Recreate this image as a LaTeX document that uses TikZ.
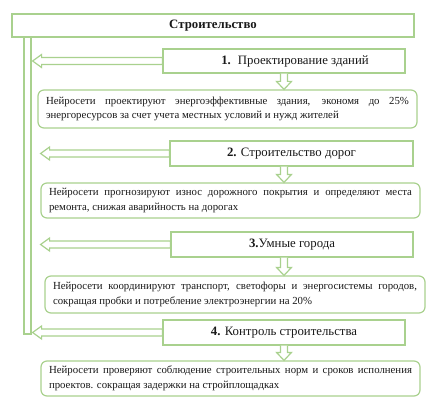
\documentclass[tikz,border=0pt]{standalone}
\usepackage{fontspec}
\setmainfont{Liberation Serif}
\usetikzlibrary{calc}
\definecolor{leafgreen}{RGB}{169,209,142}
\definecolor{inkgray}{RGB}{25,25,25}

\begin{document}
\begin{tikzpicture}[x=1pt,y=-1pt,
    headbox/.style={draw=leafgreen,fill=white,line width=1.2pt,inner sep=0pt,
      text=inkgray,align=center,font=\fontsize{12.8}{15}\selectfont},
    notebox/.style={draw=leafgreen,fill=white,line width=1.2pt,rounded corners=6pt,
      inner xsep=8pt,inner ysep=0pt,text=inkgray,align=justify,
      font=\fontsize{10.8}{14.5}\selectfont},
    blockarr/.style={draw=leafgreen,fill=white,line width=1.2pt,line join=miter}]
    \useasboundingbox (0,0) rectangle (430,406);

    % Title and the long bar on the left
    \node[headbox,minimum width=402pt,minimum height=23pt] (h0) at (213,25.5) {\textbf{Строительство}};
    \node[draw=leafgreen,fill=white,line width=1.2pt,inner sep=0pt,
      minimum width=7pt,minimum height=297pt] (bar) at (27.5,185.5) {};

    % Stages
    \node[headbox,minimum width=242pt,minimum height=24pt] (h1) at (284,61)
      {\hspace*{22pt}\textbf{1.}\hspace{7pt}Проектирование зданий};
    \node[headbox,minimum width=243pt,minimum height=25pt] (h2) at (291.5,153.5)
      {\textbf{2.} Строительство дорог};
    \node[headbox,minimum width=242pt,minimum height=25pt] (h3) at (292,244.5)
      {\textbf{3.}Умные города};
    \node[headbox,minimum width=242pt,minimum height=25pt] (h4) at (284,332.5)
      {\textbf{4.} Контроль строительства};

    % Descriptions
    \node[notebox,text width=363pt,minimum height=38pt] (d1) at (227.5,109)
      {Нейросети проектируют энергоэффективные здания, экономя до 25\%\linebreak
       энергоресурсов за счет учета местных условий и нужд жителей};
    \node[notebox,text width=363pt,minimum height=35pt] (d2) at (230.5,200.5)
      {Нейросети прогнозируют износ дорожного покрытия и определяют места\linebreak
       ремонта, снижая аварийность на дорогах};
    \node[notebox,text width=364pt,minimum height=37pt] (d3) at (235,294.5)
      {Нейросети координируют транспорт, светофоры и энергосистемы городов,\linebreak
       сокращая пробки и потребление электроэнергии на 20\%};
    \node[notebox,text width=363pt,minimum height=35pt] (d4) at (230.5,378.5)
      {Нейросети проверяют соблюдение строительных норм и сроков исполнения\linebreak
       проектов. сокращая задержки на стройплощадках};

    % Hollow arrows to the bar
    \foreach \h/\gap in {h1/1,h2/9,h3/9,h4/1}{
      \coordinate (tip) at ($(\h.west -| bar.east)+(\gap,0)$);
      \draw[blockarr] (tip) -- ++(9,-6.5) -- ++(0,3) -- ($(tip -| \h.west)+(0,-3.5)$)
        -- ($(tip -| \h.west)+(0,3.5)$) -- ($(tip)+(9,3.5)$) -- ++(0,3) -- cycle;
    }

    % Hollow arrows down to the descriptions
    \coordinate (ax) at (284,0);
    \foreach \h/\d in {h1/d1,h2/d2,h3/d3,h4/d4}{
      \draw[blockarr] ($(\h.south -| ax)+(-3.5,0)$) -- ($(\d.north -| ax)+(-3.5,-8)$)
        -- ++(-4,0) -- (\d.north -| ax) -- ++(7.5,-8) -- ++(-4,0)
        -- ($(\h.south -| ax)+(3.5,0)$);
    }
\end{tikzpicture}
\end{document}
